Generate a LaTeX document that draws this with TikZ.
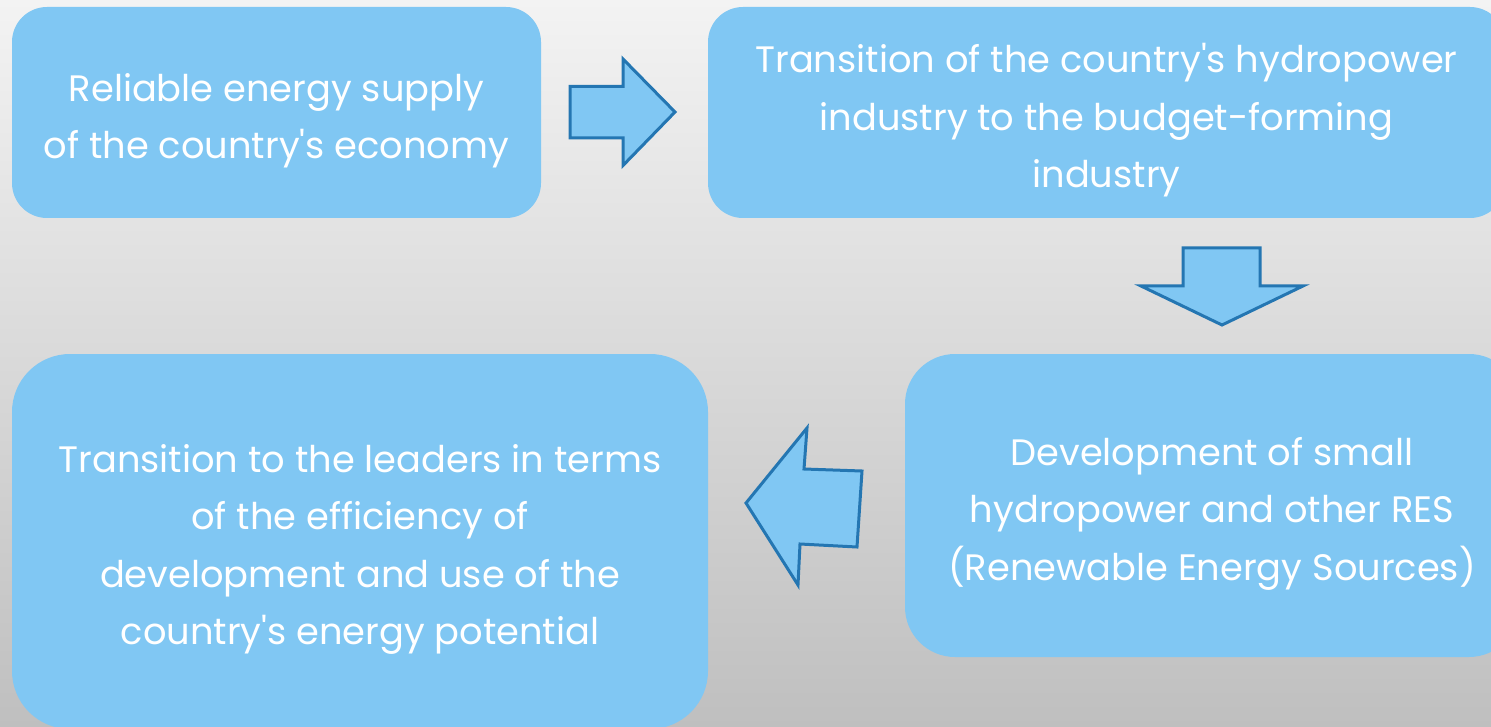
\documentclass[tikz,border=0pt]{standalone}
\usepackage{fontspec}
\setmainfont{Poppins}[Ligatures=TeXOff]
\definecolor{boxfill}{RGB}{128,199,243}
\definecolor{arrowline}{RGB}{36,118,178}
\definecolor{bgtop}{RGB}{243,243,243}
\definecolor{bgbot}{RGB}{191,191,191}
\begin{document}
\begin{tikzpicture}[x=1pt,y=-1pt,
  stepbox/.style={fill=boxfill,draw=none,inner sep=0pt},
  steptext/.style={text=white,align=center,inner sep=0pt,yshift=-8pt,
    font=\fontsize{36.8}{57.5}\selectfont},
  blockarrow/.style={fill=boxfill,draw=arrowline,line width=3pt,line join=miter}]
\useasboundingbox (0,0) rectangle (1491,727);
\clip (0,0) rectangle (1491,727);
\shade[top color=bgtop,bottom color=bgbot] (0,0) rectangle (1491,727);
% boxes
\node[stepbox,minimum width=529pt,minimum height=211pt,rounded corners=35pt] (b1) at (276.5,112.5) {};
\node[stepbox,minimum width=797pt,minimum height=211pt,rounded corners=35pt] (b2) at (1106.5,112.5) {};
\node[stepbox,minimum width=614pt,minimum height=303pt,rounded corners=50pt] (b3) at (1212,505.5) {};
\node[stepbox,minimum width=696pt,minimum height=375pt,rounded corners=58pt] (b4) at (360,541.5) {};
\node[steptext] (t1) at (b1.center) {Reliable energy supply\\of the country's economy};
\node[steptext] (t2) at (b2.center) {Transition of the country's hydropower\\industry to the budget-forming\\industry};
\node[steptext] (t3) at (b3.center) {Development of small\\hydropower and other RES\\(Renewable Energy Sources)};
\node[steptext] (t4) at (b4.center) {Transition to the leaders in terms\\of the efficiency of\\development and use of the\\country's energy potential};
% block arrows
\draw[blockarrow] (570,86.5) -- (623,86.5) -- (623,59) -- (675,112) -- (623,165.5) -- (623,138) -- (570,138) -- cycle;
\draw[blockarrow] (1183,248) -- (1260,248) -- (1260,286) -- (1303,286) -- (1222,325) -- (1141,286) -- (1183,286) -- cycle;
\draw[blockarrow] (862,471) -- (804,469) -- (807,428) -- (746,503) -- (798,585) -- (800,544) -- (857,547) -- cycle;
\end{tikzpicture}
\end{document}
